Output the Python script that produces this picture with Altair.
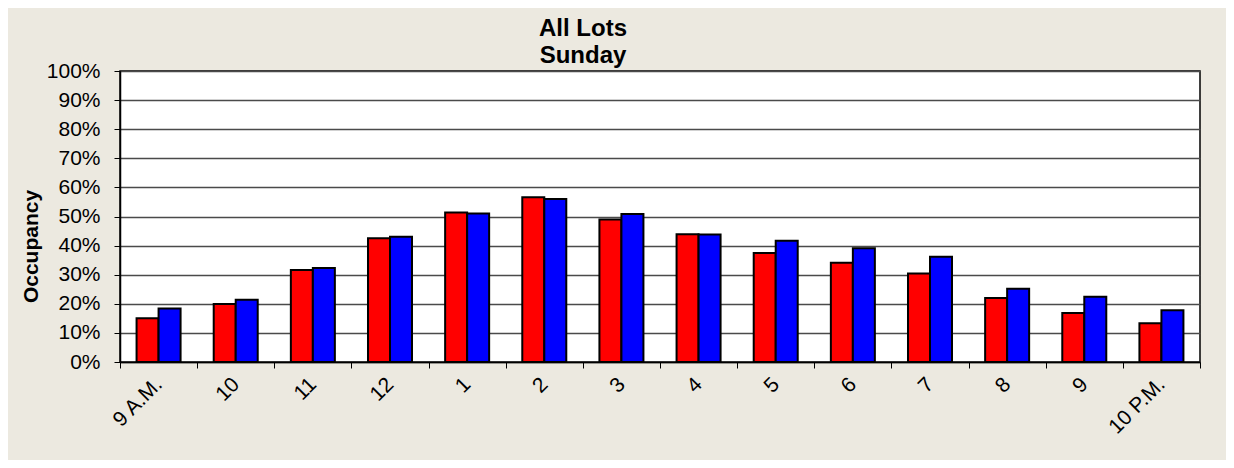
import altair as alt
import pandas as pd

hours = ["9 A.M.", "10", "11", "12", "1", "2", "3", "4", "5", "6", "7", "8", "9", "10 P.M."]
red_values = [15.0, 19.9, 31.6, 42.5, 51.4, 56.6, 49.0, 43.9, 37.5, 34.1, 30.4, 22.0, 16.8, 13.3]
blue_values = [18.4, 21.4, 32.3, 43.0, 51.0, 56.0, 50.9, 43.8, 41.7, 39.1, 36.2, 25.2, 22.4, 17.8]
series_names = ["Series 1", "Series 2"]
series_colors = ["#FF0000", "#0000FF"]
y_ticks = [0, 10, 20, 30, 40, 50, 60, 70, 80, 90, 100]

rows = []
for h, r, b in zip(hours, red_values, blue_values):
    rows.append({"hour": h, "series": series_names[0], "occ": r})
    rows.append({"hour": h, "series": series_names[1], "occ": b})
df = pd.DataFrame(rows)

FONT = "Liberation Sans"

chart = alt.Chart(df).mark_bar(stroke="black", strokeWidth=2).encode(
    x=alt.X(
        "hour:N", sort=hours,
        scale=alt.Scale(paddingInner=0, paddingOuter=0),
        axis=alt.Axis(
            title=None, labelAngle=-45, labelAlign="right", labelBaseline="middle",
            labelFontSize=21, labelFont=FONT, labelColor="black", labelPadding=13,
            tickBand="extent", tickSize=6, tickColor="black", tickWidth=1,
            domainColor="black", domainWidth=1.5, grid=False,
        ),
    ),
    xOffset=alt.XOffset(
        "series:N",
        scale=alt.Scale(domain=series_names, paddingInner=0, paddingOuter=0.753),
    ),
    y=alt.Y(
        "occ:Q",
        scale=alt.Scale(domain=[0, 100]),
        axis=alt.Axis(
            values=y_ticks, labelExpr="datum.value + '%'",
            labelFontSize=21, labelFont=FONT, labelColor="black", labelPadding=14,
            tickSize=6, tickColor="black", tickWidth=1,
            domainColor="black", domainWidth=1.5,
            grid=True, gridColor="#4a4a4a", gridWidth=1.5,
            title="Occupancy", titleFont=FONT, titleFontSize=21, titleFontWeight="bold",
            titleColor="black", titleAngle=-90, titleX=-89, titleY=175,
            titleAlign="center", titleBaseline="middle",
        ),
    ),
    color=alt.Color("series:N", scale=alt.Scale(domain=series_names, range=series_colors), legend=None),
).properties(
    width=1080,
    height=291,
    autosize=alt.AutoSizeParams(type="none"),
    padding={"left": 112, "top": 63, "right": 26, "bottom": 98},
    title=alt.Title(
        ["All Lots", "Sunday"], fontSize=24, font=FONT, fontWeight="bold", color="black",
        dx=-77, dy=10, offset=2, lineHeight=27, anchor="middle",
    ),
).configure(background="#ECE9E0").configure_view(fill="white", stroke="black", strokeWidth=1.5)

chart.save("out.html", embed_options={"renderer": "svg", "actions": False})
